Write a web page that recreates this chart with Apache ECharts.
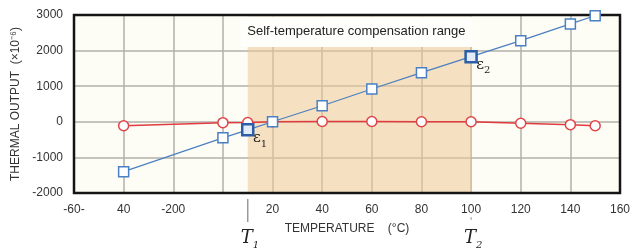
<!DOCTYPE html>
<html>
<head>
<meta charset="utf-8">
<script src="https://cdn.jsdelivr.net/npm/echarts@6/dist/echarts.min.js"></script>
<style>
html,body{margin:0;padding:0;background:#fff;}
#main{width:636px;height:248px;}
</style>
</head>
<body>
<div id="main"></div>
<script>
// temperatures (°C) and thermal output (x10^-6)
var temps = [-40, 0, 10, 20, 40, 60, 80, 100, 120, 140, 150];
var gaugeOutput = [-1400, -450, -225, 0, 450, 920, 1380, 1830, 2280, 2750, 2980];
var steelOutput = [-110, -25, -20, 0, 10, 10, 0, 0, -40, -80, -110];
var xTickLabels = {'-60': '-60-', '-40': '40', '-20': '-200', '0': '', '20': '20', '40': '40', '60': '60', '80': '80', '100': '100', '120': '120', '140': '140', '160': '160'};
var rangeT1 = 10, rangeT2 = 100;
var epsLabels = {10: '1', 100: '2'};

var font = '"Liberation Sans", Arial, sans-serif';

var chart = echarts.init(document.getElementById('main'));

var blueData = temps.map(function (t, i) {
    var item = {value: [t, gaugeOutput[i]]};
    if (epsLabels[t]) {
        item.symbolSize = 11;
        item.itemStyle = {color: '#e2ebf7', borderColor: '#2b5ea6', borderWidth: 2.5};
        item.label = {
            show: true,
            position: [12, 5],
            formatter: '{e|ε}{s|' + epsLabels[t] + '}',
            rich: {
                e: {fontFamily: 'DejaVu Serif, serif', fontSize: 15, color: '#222'},
                s: {fontFamily: 'DejaVu Serif, serif', fontSize: 10, color: '#222', padding: [11, 0, 0, 0]}
            }
        };
    }
    return item;
});
var redData = temps.map(function (t, i) { return [t, steelOutput[i]]; });

var option = {
    animation: false,
    grid: {
        left: 74, right: 16, top: 15, bottom: 55,
        outerBoundsMode: 'none',
        containLabel: false,
        show: true,
        backgroundColor: '#fdfdf5',
        borderWidth: 0
    },
    xAxis: {
        type: 'value',
        min: -60, max: 160, interval: 20,
        name: 'TEMPERATURE    (°C)',
        nameLocation: 'middle',
        nameGap: 30,
        nameTextStyle: {fontFamily: font, fontSize: 12, color: '#333'},
        axisLine: {show: false},
        axisTick: {show: false},
        axisLabel: {
            margin: 11,
            fontFamily: font, fontSize: 12, color: '#333',
            formatter: function (v) { return xTickLabels[String(v)]; }
        },
        splitLine: {lineStyle: {color: '#b0b0aa', width: 1.5}}
    },
    yAxis: {
        type: 'value',
        min: -2000, max: 3000, interval: 1000,
        name: 'THERMAL OUTPUT  (×10⁻⁶)',
        nameLocation: 'middle',
        nameGap: 40,
        nameTextStyle: {fontFamily: font, fontSize: 12, color: '#333'},
        axisLine: {show: false},
        axisTick: {show: false},
        axisLabel: {margin: 11, fontFamily: font, fontSize: 12, color: '#333', formatter: function (v) { return String(v); }},
        splitLine: {lineStyle: {color: '#b0b0aa', width: 1.5}}
    },
    series: [
        {
            name: 'range',
            type: 'line',
            data: [],
            silent: true,
            markArea: {
                silent: true,
                data: [
                    [{xAxis: rangeT1, yAxis: -2000, itemStyle: {color: 'rgba(238,200,150,0.55)'}}, {xAxis: rangeT2, yAxis: 3000}],
                    [{
                        xAxis: rangeT1 - 3, yAxis: 2100,
                        itemStyle: {color: '#fefefb'},
                        label: {
                            show: true, position: 'inside',
                            formatter: 'Self-temperature compensation range',
                            fontFamily: font, fontSize: 13, color: '#222'
                        }
                    }, {xAxis: rangeT2 + 0.6, yAxis: 2960}]
                ]
            }
        },
        {
            name: 'steel',
            type: 'line',
            data: redData,
            symbol: 'circle',
            symbolSize: 10,
            lineStyle: {color: '#e03c40', width: 1.5},
            itemStyle: {color: '#ffffff', borderColor: '#e04448', borderWidth: 1.5},
            z: 3
        },
        {
            name: 'gauge',
            type: 'line',
            data: blueData,
            symbol: 'rect',
            symbolSize: 10,
            lineStyle: {color: '#4a7fc0', width: 1.2},
            itemStyle: {color: '#ffffff', borderColor: '#4a80c4', borderWidth: 1.5},
            z: 4
        }
    ]
};
chart.setOption(option);

// dark frame round the plot
var p0 = chart.convertToPixel({gridIndex: 0}, [-60, -2000]);
var p1 = chart.convertToPixel({gridIndex: 0}, [160, 3000]);
var frame = {
    type: 'rect', z: 1, silent: true,
    shape: {x: p0[0], y: p1[1], width: p1[0] - p0[0], height: p0[1] - p1[1]},
    style: {fill: null, stroke: '#151515', lineWidth: 2.5}
};

// T1 / T2 markers under the axis
function tMark(t, sub, longLine) {
    var px = chart.convertToPixel({xAxisIndex: 0}, t);
    var yb = chart.convertToPixel({yAxisIndex: 0}, -2000);
    var els = [];
    els.push({
        type: 'line',
        shape: {x1: px, y1: longLine ? yb + 6 : yb + 24, x2: px, y2: longLine ? yb + 29 : yb + 27},
        style: {stroke: '#999', lineWidth: longLine ? 1.5 : 1}
    });
    els.push({
        type: 'text',
        x: px - 7, y: yb + 45,
        style: {
            text: '{t|T}{s|' + sub + '}',
            verticalAlign: 'middle',
            rich: {
                t: {fontFamily: 'DejaVu Serif, serif', fontStyle: 'italic', fontSize: 18, fill: '#222'},
                s: {fontFamily: 'DejaVu Serif, serif', fontStyle: 'italic', fontSize: 10, fill: '#222', padding: [14, 0, 0, 0]}
            }
        }
    });
    return els;
}
chart.setOption({graphic: [frame].concat(tMark(rangeT1, '1', true), tMark(rangeT2, '2', false))});
</script>
</body>
</html>
